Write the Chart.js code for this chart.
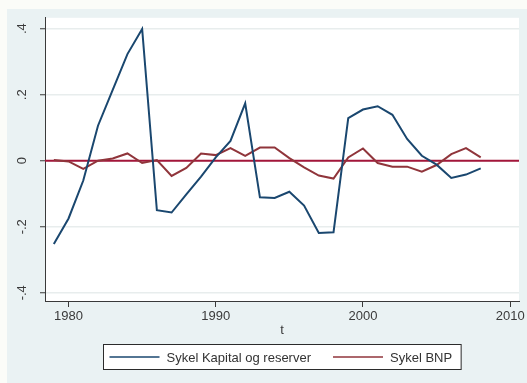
<!DOCTYPE html>
<html>
<head>
<meta charset="utf-8">
<script src="https://cdn.jsdelivr.net/npm/chart.js@4"></script>
<style>
  html, body { margin: 0; padding: 0; background: #ffffff; }
  #wrap { width: 527px; height: 383px; }
</style>
</head>
<body>
<div id="wrap"><canvas id="c" width="527" height="383"></canvas></div>
<script>
// Years (t) and the two cyclical components
const years = [1979, 1980, 1981, 1982, 1983, 1984, 1985, 1986, 1987, 1988,
               1989, 1990, 1991, 1992, 1993, 1994, 1995, 1996, 1997, 1998,
               1999, 2000, 2001, 2002, 2003, 2004, 2005, 2006, 2007, 2008];

const sykelKapital = [-0.252, -0.175, -0.060, 0.106, 0.215, 0.323, 0.399, -0.150, -0.157, -0.102,
                      -0.048, 0.010, 0.060, 0.174, -0.111, -0.113, -0.094, -0.136, -0.219, -0.217,
                      0.129, 0.155, 0.165, 0.139, 0.066, 0.015, -0.012, -0.052, -0.042, -0.023];

const sykelBNP = [0.002, -0.002, -0.025, 0.000, 0.007, 0.022, -0.007, 0.002, -0.046, -0.022,
                  0.022, 0.017, 0.038, 0.015, 0.040, 0.040, 0.008, -0.020, -0.045, -0.054,
                  0.010, 0.037, -0.007, -0.018, -0.018, -0.033, -0.013, 0.020, 0.038, 0.010];

const seriesLabels = ['Sykel Kapital og reserver', 'Sykel BNP'];

const xTicks = [1980, 1990, 2000, 2010];
const yTicks = [-0.4, -0.2, 0, 0.2, 0.4];
const yTickLabels = ['-.4', '-.2', '0', '.2', '.4'];
const refLineValue = 0;

const NAVY = '#1a476f';
const MAROON = '#90353b';
const REFLINE = '#a3163a';
const BG = '#eaf2f3';
const AXIS = '#3a3a3a';
const FONT = { family: '"Liberation Sans", Arial, sans-serif', size: 13 };

const toPoints = (vals) => years.map((t, i) => ({ x: t, y: vals[i] }));

// Graph region background, white plot region and the y = 0 reference line
const backdrop = {
  id: 'backdrop',
  beforeDraw(chart) {
    const { ctx, chartArea: a, width, height } = chart;
    ctx.save();
    ctx.fillStyle = '#fbfcf8';
    ctx.fillRect(0, 0, width, height);
    ctx.fillStyle = BG;
    ctx.fillRect(7, 9, width - 7, height - 9);
    ctx.fillStyle = '#ffffff';
    ctx.fillRect(a.left, a.top, a.right - a.left, a.bottom - a.top);
    ctx.restore();
  },
  beforeDatasetsDraw(chart) {
    const { ctx, chartArea: a, scales } = chart;
    const y = scales.y.getPixelForValue(refLineValue);
    ctx.save();
    ctx.strokeStyle = REFLINE;
    ctx.lineWidth = 2;
    ctx.beginPath();
    ctx.moveTo(a.left, y);
    ctx.lineTo(a.right, y);
    ctx.stroke();
    ctx.restore();
  }
};

// Boxed legend below the x-axis title
const boxedLegend = {
  id: 'boxedLegend',
  afterDraw(chart) {
    const { ctx, chartArea: a } = chart;
    const ds = chart.data.datasets;
    ctx.save();
    ctx.font = `${FONT.size}px ${FONT.family}`;
    const lineLen = 50, padL = 6, gapText = 7, gapItem = 22, padR = 9;
    let total = padL;
    ds.forEach((d, i) => {
      total += lineLen + gapText + ctx.measureText(d.label).width;
      if (i < ds.length - 1) total += gapItem;
    });
    total += padR;
    const boxTop = 344, boxH = 25;
    const cx = (a.left + a.right) / 2;
    const boxLeft = Math.round(cx - total / 2) + 0.5;
    ctx.fillStyle = '#ffffff';
    ctx.fillRect(boxLeft, boxTop + 0.5, total, boxH);
    ctx.strokeStyle = '#2b2b2b';
    ctx.lineWidth = 1;
    ctx.strokeRect(boxLeft, boxTop + 0.5, total, boxH);
    const midY = boxTop + boxH / 2 + 0.5;
    let x = boxLeft + padL;
    ds.forEach((d) => {
      ctx.strokeStyle = d.borderColor;
      ctx.lineWidth = 1.5;
      ctx.beginPath();
      ctx.moveTo(x, midY);
      ctx.lineTo(x + lineLen, midY);
      ctx.stroke();
      x += lineLen + gapText;
      ctx.fillStyle = '#333333';
      ctx.textBaseline = 'middle';
      ctx.textAlign = 'left';
      ctx.fillText(d.label, x, midY + 1);
      x += ctx.measureText(d.label).width + gapItem;
    });
    ctx.restore();
  }
};

new Chart(document.getElementById('c'), {
  type: 'line',
  data: {
    datasets: [
      {
        label: seriesLabels[0],
        data: toPoints(sykelKapital),
        borderColor: NAVY,
        borderWidth: 2,
        pointRadius: 0,
        tension: 0,
        fill: false
      },
      {
        label: seriesLabels[1],
        data: toPoints(sykelBNP),
        borderColor: MAROON,
        borderWidth: 2,
        pointRadius: 0,
        tension: 0,
        fill: false
      }
    ]
  },
  options: {
    responsive: false,
    animation: false,
    devicePixelRatio: 1,
    layout: { padding: { top: 17, right: 8, bottom: 42, left: 0 } },
    plugins: {
      legend: { display: false },
      tooltip: { enabled: false },
      title: { display: false }
    },
    scales: {
      x: {
        type: 'linear',
        min: 1978.4,
        max: 2010.6,
        afterBuildTicks: (s) => { s.ticks = xTicks.map(v => ({ value: v })); },
        afterFit: (s) => { s.height = 40; },
        ticks: {
          color: AXIS,
          font: FONT,
          padding: 2,
          maxRotation: 0,
          autoSkip: false,
          callback: (v) => String(v)
        },
        grid: {
          drawOnChartArea: false,
          drawTicks: true,
          tickLength: 6,
          tickColor: AXIS,
          tickWidth: 1
        },
        border: { display: true, color: AXIS, width: 1 },
        title: {
          display: true,
          text: 't',
          color: AXIS,
          font: FONT,
          padding: { top: 0, bottom: 3 }
        }
      },
      y: {
        type: 'linear',
        min: -0.425,
        max: 0.433,
        afterBuildTicks: (s) => { s.ticks = yTicks.map(v => ({ value: v })); },
        afterFit: (s) => { s.width = 45; },
        ticks: {
          color: AXIS,
          font: FONT,
          padding: 10,
          minRotation: 90,
          maxRotation: 90,
          crossAlign: 'center',
          autoSkip: false,
          callback: (v) => {
            const i = yTicks.findIndex(t => Math.abs(t - v) < 1e-9);
            return i >= 0 ? yTickLabels[i] : '';
          }
        },
        grid: {
          drawOnChartArea: true,
          color: '#e8eded',
          lineWidth: 1.5,
          drawTicks: true,
          tickLength: 5,
          tickColor: AXIS,
          tickWidth: 1
        },
        border: { display: true, color: AXIS, width: 1 }
      }
    }
  },
  plugins: [backdrop, boxedLegend]
});
</script>
</body>
</html>
